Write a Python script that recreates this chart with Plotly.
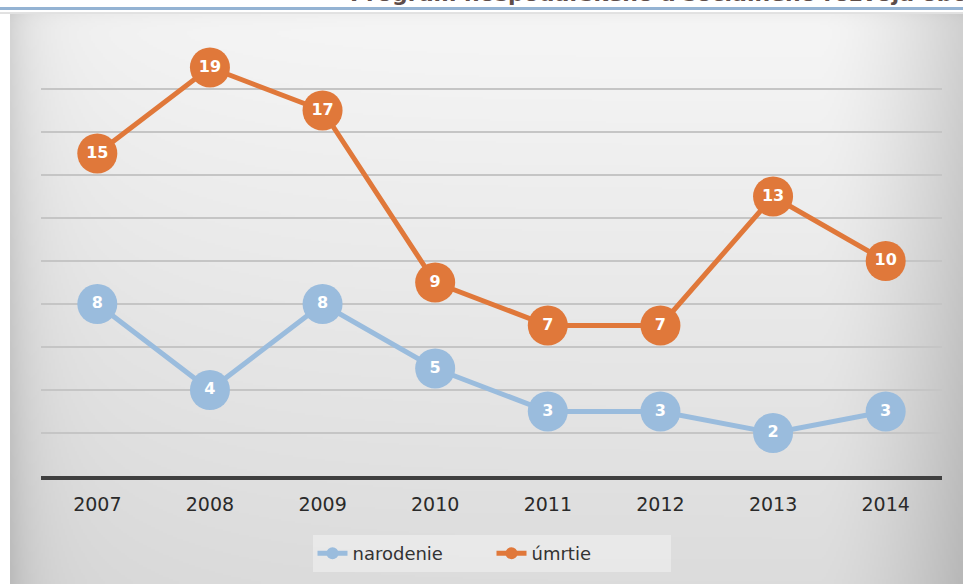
import base64
import struct
import zlib

import numpy as np
import plotly.graph_objects as go

# ---------------- data ----------------
years = ["2007", "2008", "2009", "2010", "2011", "2012", "2013", "2014"]
narodenie = [8, 4, 8, 5, 3, 3, 2, 3]
umrtie = [15, 19, 17, 9, 7, 7, 13, 10]
series_names = ["narodenie", "úmrtie"]
title_text = "Program hospodárskeho a sociálneho rozvoja obce"

# ---------------- geometry (pixels) ----------------
W, H = 963, 584
ML, MR, MT, MB = 41, 21, 46, 108
PW, PH = W - ML - MR, H - MT - MB


def px_x(p):
    return (p - ML) / PW


def px_y(p):
    return (H - MB - p) / PH


# ---------------- gradient background image ----------------
def make_png(arr):
    h, w = arr.shape
    raw = b"".join(b"\x00" + arr[i].tobytes() for i in range(h))

    def chunk(tag, data):
        return (struct.pack(">I", len(data)) + tag + data +
                struct.pack(">I", zlib.crc32(tag + data) & 0xFFFFFFFF))

    return (b"\x89PNG\r\n\x1a\n" +
            chunk(b"IHDR", struct.pack(">IIBBBBB", w, h, 8, 0, 0, 0, 0)) +
            chunk(b"IDAT", zlib.compress(raw, 9)) +
            chunk(b"IEND", b""))


bx0, by0, bx1, by1 = 10, 14, 963, 584
gw, gh = (bx1 - bx0) // 2, (by1 - by0) // 2
xs = np.linspace(bx0, bx1, gw)
ys = np.linspace(by0, by1, gh)
X, Y = np.meshgrid(xs, ys)
v = 246 - 26 * ((Y - by0) / (by1 - by0))
v -= 24 * np.exp(-(X - bx0) / 22.0)
v -= 8 * np.exp(-(X - bx0) / 120.0)
r = np.clip((X - 820) / (bx1 - 820), 0, 1)
v -= 36 * r ** 1.6
v -= 6 * np.exp(-(Y - by0) / 6.0)
img = np.clip(v, 0, 255).astype(np.uint8)
png_uri = "data:image/png;base64," + base64.b64encode(make_png(img)).decode()

# ---------------- figure ----------------
blue = "#9abcdd"
orange = "#e0783a"
label_font = dict(family="DejaVu Sans", size=16, color="white", weight="bold")

fig = go.Figure()
fig.add_trace(go.Scatter(
    x=years, y=narodenie, name=series_names[0],
    mode="lines+markers+text",
    line=dict(color=blue, width=5),
    marker=dict(color=blue, size=40, line=dict(width=0)),
    text=[str(v) for v in narodenie], textposition="middle center",
    textfont=label_font, cliponaxis=False,
))
fig.add_trace(go.Scatter(
    x=years, y=umrtie, name=series_names[1],
    mode="lines+markers+text",
    line=dict(color=orange, width=5),
    marker=dict(color=orange, size=40, line=dict(width=0)),
    text=[str(v) for v in umrtie], textposition="middle center",
    textfont=label_font, cliponaxis=False,
))

fig.add_layout_image(dict(
    source=png_uri, xref="paper", yref="paper",
    x=px_x(bx0), y=px_y(by0),
    sizex=(bx1 - bx0) / PW, sizey=(by1 - by0) / PH,
    xanchor="left", yanchor="top", sizing="stretch", layer="below",
))

fig.add_shape(type="line", xref="paper", yref="paper",
              x0=px_x(0), x1=px_x(W), y0=px_y(8.5), y1=px_y(8.5),
              line=dict(color="#94b3d3", width=3))
fig.add_shape(type="line", xref="paper", yref="paper",
              x0=px_x(0), x1=px_x(W), y0=px_y(13), y1=px_y(13),
              line=dict(color="#c4c4c4", width=1))

fig.add_annotation(
    text=title_text, xref="paper", yref="paper",
    x=px_x(349), y=px_y(7), xanchor="left", yanchor="bottom",
    showarrow=False, borderpad=0,
    font=dict(family="DejaVu Sans", size=22, color="#5e4d49", weight="bold"),
)

fig.update_layout(
    width=W, height=H,
    margin=dict(l=ML, r=MR, t=MT, b=MB),
    paper_bgcolor="white",
    plot_bgcolor="rgba(0,0,0,0)",
    showlegend=True,
    legend=dict(
        orientation="h", x=0.5, xanchor="center",
        y=px_y(535), yanchor="top",
        bgcolor="rgba(236,236,236,0.75)",
        font=dict(family="DejaVu Sans", size=18, color="#333333"),
        itemsizing="constant",
        entrywidthmode="pixels", entrywidth=134,
        traceorder="normal",
    ),
    xaxis=dict(
        type="category", range=[-0.5, len(years) - 0.5],
        showgrid=False, showline=True, linecolor="#3f3f3f", linewidth=4,
        ticks="", tickfont=dict(family="DejaVu Sans", size=19, color="#2a2a2a"),
        ticklabelstandoff=8,
    ),
    yaxis=dict(
        range=[0, 20], dtick=2, showgrid=True, gridcolor="#c5c5c5", gridwidth=2,
        zeroline=False, showticklabels=False, showline=False,
    ),
)

fig.write_html(
    "out.html",
    config={"displayModeBar": False},
    post_script="document.body.style.margin='0';document.body.style.padding='0';",
)
